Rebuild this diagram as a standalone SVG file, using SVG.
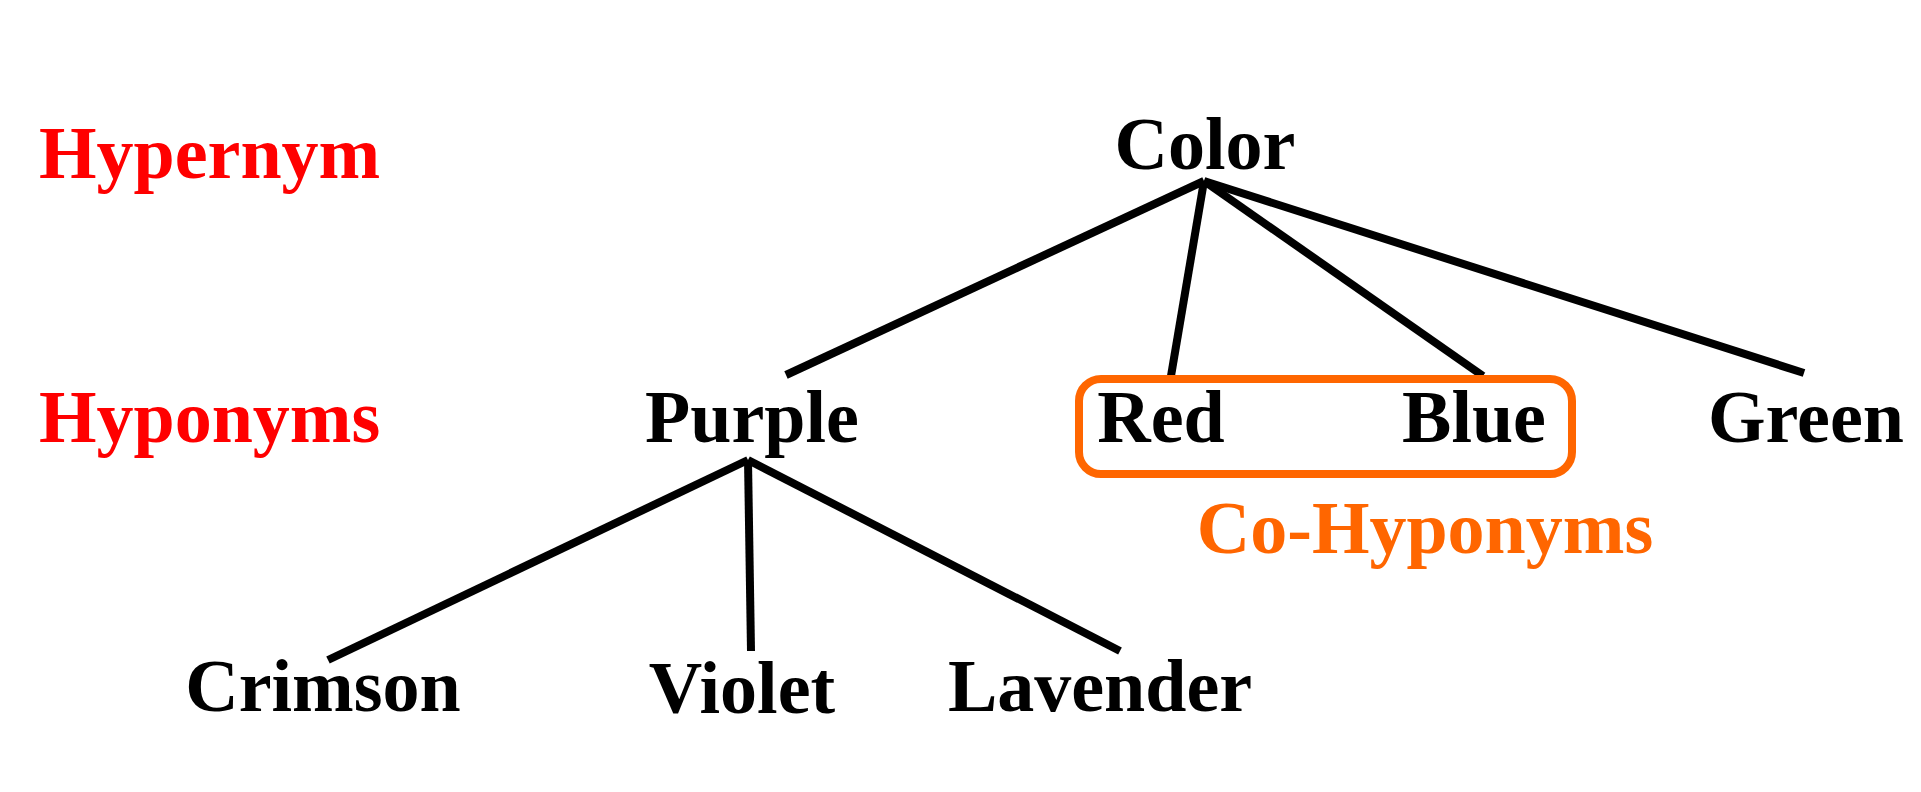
<svg xmlns="http://www.w3.org/2000/svg" width="1921" height="792" viewBox="0 0 1921 792">
<style>
  text { font-family: "Liberation Serif", "Times New Roman", serif; font-weight: bold; font-size: 74px; }
  .term { fill: #000000; text-anchor: middle; }
  .lbl { fill: #FF0000; }
  .co { fill: #FF6600; text-anchor: middle; }
  .edge { stroke: #000000; stroke-width: 8; fill: none; }
</style>
<rect x="0" y="0" width="1921" height="792" fill="#FFFFFF"/>
<g id="labels">
  <text class="lbl" x="39" y="178">Hypernym</text>
  <text class="lbl" x="39" y="442">Hyponyms</text>
</g>
<g id="connectors">
  <line class="edge" x1="1204" y1="181" x2="786" y2="375"/>
  <line class="edge" x1="1204" y1="181" x2="1171" y2="376"/>
  <line class="edge" x1="1204" y1="181" x2="1483" y2="376"/>
  <line class="edge" x1="1204" y1="181" x2="1804" y2="373"/>
  <line class="edge" x1="748" y1="460" x2="328" y2="660"/>
  <line class="edge" x1="748" y1="460" x2="751" y2="651"/>
  <line class="edge" x1="748" y1="460" x2="1120" y2="651"/>
</g>
<g id="cohyponyms-box">
  <rect x="1079" y="379" width="493" height="95" rx="22" ry="22" fill="none" stroke="#FF6600" stroke-width="8"/>
  <text class="co" x="1425" y="553">Co-Hyponyms</text>
</g>
<g id="node-color"><text class="term" x="1205" y="169">Color</text></g>
<g id="node-purple"><text class="term" x="752" y="442">Purple</text></g>
<g id="node-red"><text class="term" x="1161" y="442">Red</text></g>
<g id="node-blue"><text class="term" x="1474" y="442">Blue</text></g>
<g id="node-green"><text class="term" x="1806" y="442">Green</text></g>
<g id="node-crimson"><text class="term" x="323" y="711">Crimson</text></g>
<g id="node-violet"><text class="term" x="742" y="713">Violet</text></g>
<g id="node-lavender"><text class="term" x="1100" y="711">Lavender</text></g>
</svg>
